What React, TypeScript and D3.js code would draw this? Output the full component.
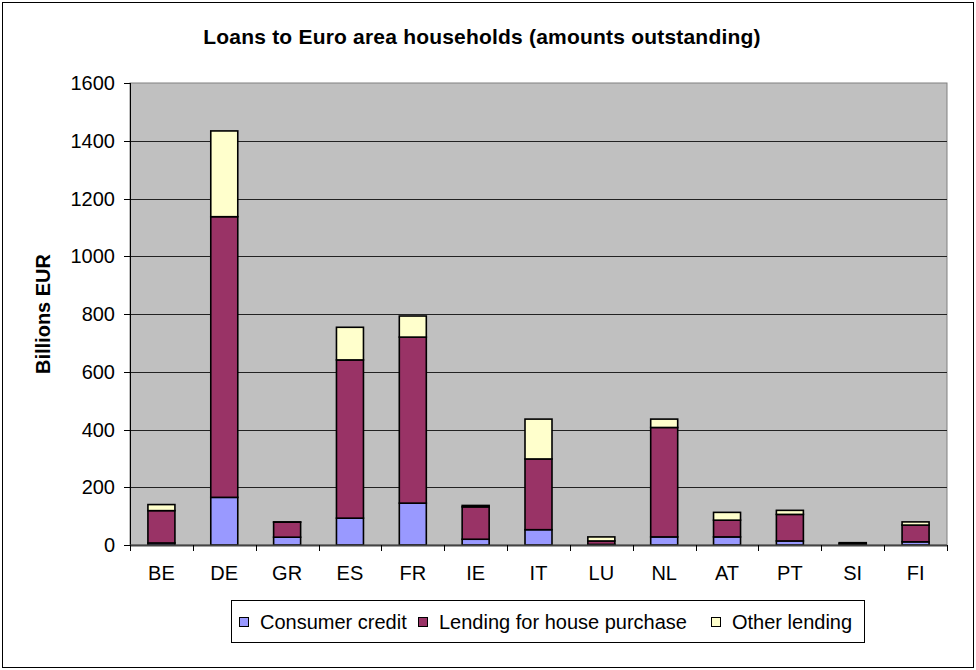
import React from "react";
import * as d3 from "d3";

const categories = ["BE", "DE", "GR", "ES", "FR", "IE", "IT", "LU", "NL", "AT", "PT", "SI", "FI"];
const consumerCredit = [7, 165, 27, 93, 145, 20, 53, 2, 28, 28, 14, 2, 11];
const housePurchase = [112, 972, 52, 548, 575, 112, 245, 12, 379, 58, 92, 4, 58];
const otherLending = [21, 297, 1, 113, 73, 5, 138, 14, 29, 27, 14, 2, 11];
const seriesNames = ["Consumer credit", "Lending for house purchase", "Other lending"];
const seriesColors = ["#9999FF", "#993366", "#FFFFCC"];
const yTicks = [0, 200, 400, 600, 800, 1000, 1200, 1400, 1600];

const W = 976;
const H = 670;
const plot = { left: 130, right: 947, top: 83, bottom: 545 };
const FONT = "'Liberation Sans', Arial, sans-serif";

export default function App() {
  const x = d3.scaleBand<string>().domain(categories).range([plot.left, plot.right]).paddingInner(0).paddingOuter(0);
  const y = d3.scaleLinear().domain([0, 1600]).range([plot.bottom, plot.top]);
  const rows = categories.map((c, i) => ({ cat: c, s0: consumerCredit[i], s1: housePurchase[i], s2: otherLending[i] }));
  const stacked = d3.stack<any>().keys(["s0", "s1", "s2"])(rows);
  const bw = 27;

  const legendItems = [
    { x: 239, label: seriesNames[0], color: seriesColors[0] },
    { x: 418, label: seriesNames[1], color: seriesColors[1] },
    { x: 711, label: seriesNames[2], color: seriesColors[2] },
  ];

  return (
    <svg width={W} height={H} style={{ position: "absolute", left: 0, top: 0, background: "#fff" }} fontFamily={FONT}>
      <rect x={2.5} y={2.5} width={W - 5} height={H - 5} fill="#fff" stroke="#000" strokeWidth={1} />
      <text x={482} y={44} textAnchor="middle" fontSize={21} fontWeight="bold" letterSpacing={0.2}>
        Loans to Euro area households (amounts outstanding)
      </text>
      <rect x={plot.left} y={plot.top} width={plot.right - plot.left} height={plot.bottom - plot.top} fill="#C0C0C0" stroke="#808080" strokeWidth={1} />
      {yTicks.filter((t) => t > 0 && t < 1600).map((t) => (
        <line key={t} x1={plot.left} x2={plot.right} y1={Math.round(y(t)) + 0.5} y2={Math.round(y(t)) + 0.5} stroke="#222" strokeWidth={1} />
      ))}
      {/* y axis */}
      <line x1={plot.left + 0.5} x2={plot.left + 0.5} y1={plot.top} y2={plot.bottom} stroke="#000" />
      {yTicks.map((t) => (
        <g key={"yt" + t}>
          <line x1={plot.left - 6} x2={plot.left} y1={Math.round(y(t)) + 0.5} y2={Math.round(y(t)) + 0.5} stroke="#000" />
          <text x={115} y={y(t) + 7} textAnchor="end" fontSize={20}>
            {t}
          </text>
        </g>
      ))}
      {/* bars */}
      {stacked.map((layer, si) =>
        layer.map((d, i) => {
          const cx = (x(categories[i]) as number) + x.bandwidth() / 2;
          const y0 = y(d[0]);
          const y1 = y(d[1]);
          return (
            <rect
              key={si + "-" + i}
              x={cx - bw / 2}
              y={y1}
              width={bw}
              height={Math.max(0, y0 - y1)}
              fill={seriesColors[si]}
              stroke="#000"
              strokeWidth={1.6}
            />
          );
        })
      )}
      {/* x axis */}
      <line x1={plot.left} x2={plot.right} y1={plot.bottom + 0.5} y2={plot.bottom + 0.5} stroke="#444" strokeWidth={2} />
      {categories.concat(["_end"]).map((c, i) => {
        const xx = Math.round(plot.left + i * x.bandwidth()) + 0.5;
        return <line key={"xt" + i} x1={xx} x2={xx} y1={plot.bottom} y2={plot.bottom + 6} stroke="#000" />;
      })}
      {categories.map((c) => (
        <text key={"xl" + c} x={(x(c) as number) + x.bandwidth() / 2} y={580} textAnchor="middle" fontSize={20}>
          {c}
        </text>
      ))}
      <text transform={`translate(50,${(plot.top + plot.bottom) / 2}) rotate(-90)`} textAnchor="middle" fontSize={20} fontWeight="bold">
        Billions EUR
      </text>
      {/* legend */}
      <rect x={231.5} y={600.5} width={633} height={42} fill="#fff" stroke="#000" />
      {legendItems.map((it) => (
        <g key={it.label}>
          <rect x={it.x + 0.5} y={617.5} width={9} height={9} fill={it.color} stroke="#000" />
          <text x={it.x + 21} y={629} fontSize={20}>
            {it.label}
          </text>
        </g>
      ))}
    </svg>
  );
}
